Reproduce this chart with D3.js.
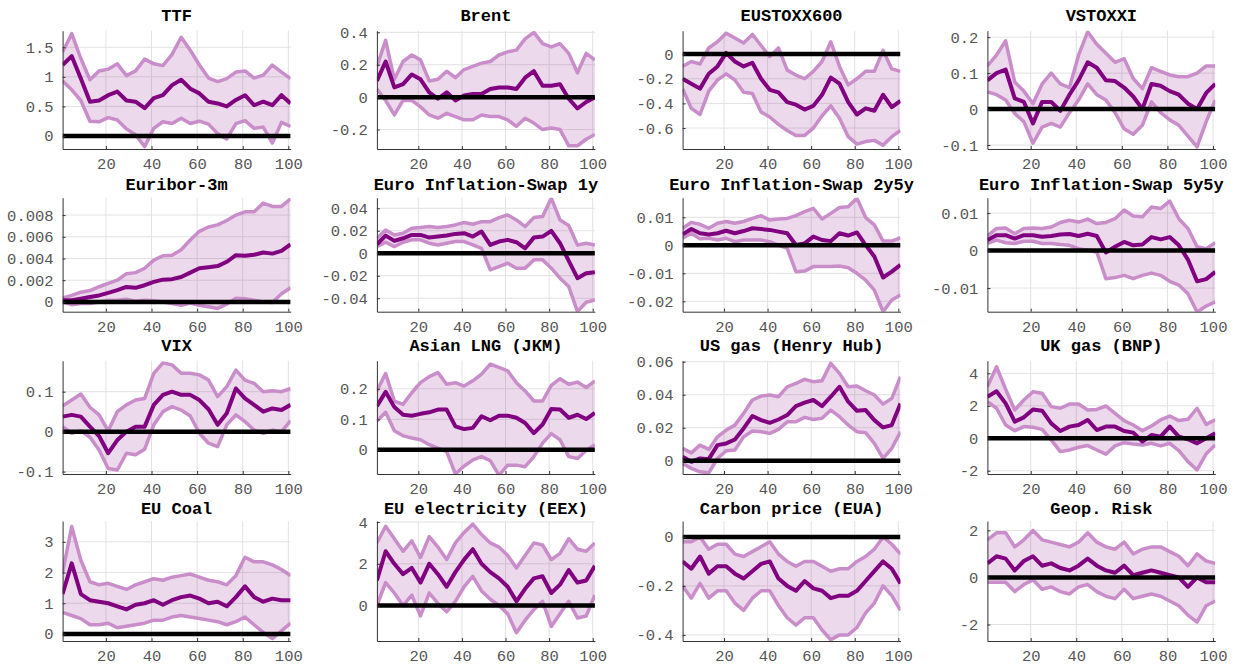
<!DOCTYPE html>
<html><head><meta charset="utf-8">
<script src="https://cdn.jsdelivr.net/npm/d3@7"></script>
<style>body{margin:0;background:#fff}svg{display:block}</style>
</head><body><svg id="c" width="1237" height="666"></svg>
<script>
const xs = [1,5,9,13,17,21,25,29,33,37,41,45,49,53,57,61,65,69,73,77,81,85,89,93,97,101];
const titles = ["TTF","Brent","EUSTOXX600","VSTOXXI","Euribor-3m","Euro Inflation-Swap 1y","Euro Inflation-Swap 2y5y","Euro Inflation-Swap 5y5y","VIX","Asian LNG (JKM)","US gas (Henry Hub)","UK gas (BNP)","EU Coal","EU electricity (EEX)","Carbon price (EUA)","Geop. Risk"];

const ttfMed=[1.2,1.35,0.97,0.58,0.6,0.69,0.75,0.6,0.58,0.47,0.64,0.69,0.86,0.95,0.8,0.72,0.58,0.55,0.5,0.61,0.69,0.52,0.58,0.52,0.69,0.55];
const ttfUp=[1.42,1.73,1.31,0.95,1.1,1.13,1.22,1.02,1.1,1.3,1.22,1.19,1.38,1.67,1.45,1.2,0.98,0.92,0.97,1.08,1.1,0.98,1.03,1.2,1.08,0.97];
const ttfLo=[0.93,0.78,0.6,0.25,0.24,0.31,0.27,0.12,0.02,-0.18,0.13,0.24,0.21,0.3,0.21,0.25,0.2,0.04,-0.05,0.21,0.26,0.13,0.15,-0.12,0.23,0.16];

const brentMed=[0.1,0.22,0.06,0.08,0.14,0.11,0.03,-0.01,0.03,-0.02,0.01,0.02,0.02,0.05,0.06,0.06,0.05,0.12,0.16,0.07,0.07,0.08,-0.01,-0.07,-0.03,0.0];
const brentUp=[0.19,0.35,0.11,0.22,0.26,0.23,0.1,0.11,0.16,0.12,0.17,0.19,0.21,0.22,0.26,0.28,0.29,0.36,0.4,0.33,0.31,0.33,0.27,0.15,0.27,0.23];
const brentLo=[0.05,-0.02,-0.11,-0.02,-0.02,-0.06,-0.11,-0.13,-0.1,-0.12,-0.14,-0.14,-0.11,-0.12,-0.12,-0.14,-0.18,-0.13,-0.16,-0.2,-0.19,-0.2,-0.3,-0.3,-0.26,-0.23];

const stoxxMed=[-0.2,-0.24,-0.28,-0.16,-0.1,0.01,-0.06,-0.1,-0.07,-0.2,-0.29,-0.31,-0.39,-0.41,-0.45,-0.42,-0.33,-0.19,-0.24,-0.39,-0.49,-0.44,-0.46,-0.33,-0.43,-0.38];
const stoxxUp=[-0.1,-0.06,-0.08,0.05,0.1,0.17,0.13,0.09,0.16,0.07,-0.02,0.05,-0.13,-0.17,-0.2,-0.14,-0.06,0.1,-0.1,-0.25,-0.2,-0.14,-0.14,0.03,-0.12,-0.14];
const stoxxLo=[-0.28,-0.44,-0.49,-0.3,-0.21,-0.16,-0.21,-0.31,-0.32,-0.47,-0.51,-0.57,-0.62,-0.66,-0.66,-0.6,-0.5,-0.42,-0.52,-0.67,-0.73,-0.71,-0.7,-0.74,-0.67,-0.62];

const vstoxxMed=[0.08,0.1,0.11,0.03,0.02,-0.04,0.02,0.02,-0.005,0.04,0.08,0.13,0.115,0.08,0.078,0.06,0.035,0.0,0.07,0.065,0.05,0.04,0.015,0.0,0.045,0.07];
const vstoxxUp=[0.12,0.15,0.19,0.075,0.05,0.015,0.07,0.1,0.07,0.06,0.15,0.215,0.18,0.155,0.13,0.14,0.085,0.057,0.115,0.105,0.095,0.09,0.09,0.1,0.12,0.12];
const vstoxxLo=[0.048,0.04,0.025,-0.012,-0.035,-0.095,-0.05,-0.04,-0.05,-0.01,0.025,0.07,0.04,0.025,-0.01,-0.055,-0.07,-0.045,0.02,-0.01,-0.03,-0.045,-0.075,-0.105,-0.035,0.025];

const euriborMed=[0.00015,0.00015,0.0003,0.00045,0.0006,0.00083,0.00108,0.00138,0.0013,0.00154,0.00185,0.00205,0.0021,0.0023,0.0027,0.0031,0.0032,0.0033,0.0037,0.0043,0.00425,0.00435,0.00455,0.00445,0.0047,0.0053];
const euriborUp=[0.00037,0.0006,0.0009,0.00105,0.0014,0.0017,0.002,0.0026,0.0027,0.0031,0.00385,0.00425,0.0043,0.0048,0.0057,0.0065,0.0069,0.0071,0.0075,0.008,0.0083,0.0083,0.0091,0.0088,0.0088,0.0095];
const euriborLo=[0,-0.00025,-0.00015,-0.00015,0,0.00015,0.00015,0.00025,0.00006,0.00015,0.0001,0,-0.00015,-0.0003,-0.0001,-0.0003,-0.00045,-0.0006,-0.0002,0.00035,0.0003,0.00015,0,-0.00006,0.00075,0.0013];

const infl1Med=[0.008,0.0157,0.011,0.0133,0.0163,0.0163,0.0139,0.0148,0.0157,0.0172,0.0178,0.0148,0.0193,0.0074,0.0104,0.0119,0.0098,0.0044,0.0139,0.0148,0.0199,0.0089,-0.0068,-0.0222,-0.0178,-0.0169];
const infl1Up=[0.0133,0.0207,0.0163,0.0178,0.0222,0.0228,0.0237,0.0228,0.0237,0.0252,0.0273,0.0258,0.0281,0.0281,0.0317,0.0341,0.0296,0.0237,0.0317,0.0326,0.0489,0.0296,0.0246,0.0074,0.0089,0.0074];
const infl1Lo=[0.0059,0.0098,0.0059,0.0098,0.0119,0.0119,0.0089,0.0074,0.0089,0.0104,0.0104,0.0074,0.0044,-0.0148,-0.0119,-0.0089,-0.0133,-0.0133,-0.0059,-0.0059,-0.0133,-0.0222,-0.0296,-0.0519,-0.0436,-0.0415];

const infl25Med=[0.0039,0.0058,0.0043,0.0039,0.0043,0.0052,0.0043,0.0051,0.0061,0.0058,0.0055,0.0049,0.0043,0.0001,0.0007,0.0031,0.0019,0.0015,0.0043,0.0035,0.0046,0.0001,-0.004,-0.0115,-0.0094,-0.007];
const infl25Up=[0.0061,0.0082,0.0075,0.0061,0.0079,0.0085,0.0079,0.0085,0.0096,0.0106,0.009,0.0094,0.0096,0.0106,0.012,0.0132,0.0094,0.0114,0.0135,0.0138,0.0168,0.0099,0.0073,0.0015,0.0015,0.0027];
const infl25Lo=[0.0025,0.0043,0.0023,0.0025,0.0019,0.0025,0.0013,0.0019,0.0019,0.0019,0.0013,0.0001,-0.0011,-0.0094,-0.0092,-0.0076,-0.0076,-0.0076,-0.0074,-0.008,-0.01,-0.0124,-0.016,-0.0237,-0.0195,-0.0177];

const infl55Med=[0.0028,0.0041,0.0041,0.0032,0.0041,0.0041,0.0037,0.0039,0.0043,0.0044,0.0039,0.0045,0.0039,-0.0005,0.001,0.0023,0.0014,0.0016,0.0036,0.003,0.0036,0.0014,-0.0024,-0.0082,-0.0076,-0.0057];
const infl55Up=[0.0039,0.0059,0.006,0.0045,0.0059,0.006,0.0059,0.0063,0.0075,0.0081,0.0076,0.0084,0.0072,0.0075,0.0085,0.0108,0.0092,0.009,0.0116,0.0112,0.0132,0.0085,0.0059,0.001,0.0005,0.0021];
const infl55Lo=[0.0019,0.0028,0.0021,0.0019,0.0025,0.0025,0.0019,0.0019,0.0016,0.0014,0.0005,0.0001,-0.0004,-0.0075,-0.0072,-0.0066,-0.0075,-0.0066,-0.006,-0.0066,-0.0082,-0.0092,-0.0115,-0.0164,-0.0148,-0.0137];

const vixMed=[0.0375,0.042,0.0375,0.0125,-0.011,-0.054,-0.021,0.0,0.0125,0.0125,0.067,0.092,0.1,0.092,0.092,0.079,0.056,0.017,0.046,0.108,0.083,0.067,0.05,0.058,0.054,0.067];
const vixUp=[0.064,0.079,0.094,0.061,0.042,0.002,0.05,0.067,0.079,0.083,0.146,0.172,0.167,0.146,0.146,0.142,0.129,0.0875,0.1125,0.154,0.129,0.121,0.1,0.1025,0.1,0.108];
const vixLo=[0.0125,-0.004,0.0025,-0.014,-0.046,-0.092,-0.096,-0.054,-0.058,-0.044,0.017,0.05,0.0625,0.054,0.039,-0.004,-0.029,-0.0375,0.017,0.042,0.025,0.004,-0.004,0.004,0.0,0.0275];

const lngMed=[0.143,0.19,0.14,0.115,0.112,0.118,0.123,0.132,0.132,0.077,0.068,0.072,0.11,0.097,0.112,0.112,0.105,0.088,0.055,0.083,0.134,0.132,0.105,0.115,0.101,0.121];
const lngUp=[0.193,0.25,0.16,0.149,0.187,0.22,0.24,0.253,0.215,0.22,0.209,0.226,0.248,0.281,0.27,0.259,0.22,0.193,0.16,0.16,0.211,0.233,0.215,0.222,0.204,0.226];
const lngLo=[0.094,0.123,0.063,0.046,0.039,0.033,0.017,0.006,-0.006,-0.079,-0.053,-0.033,-0.022,-0.035,-0.083,-0.05,-0.05,-0.055,-0.022,0.022,0.053,0.033,-0.022,-0.028,-0.002,0.017];

const usgasMed=[0.0024,-0.0006,0.0014,0.001,0.0095,0.0105,0.0129,0.0196,0.0271,0.0246,0.023,0.025,0.0277,0.0331,0.0352,0.0368,0.0331,0.0388,0.0448,0.0358,0.0303,0.0307,0.0246,0.0202,0.0216,0.0347];
const usgasUp=[0.0075,0.0048,0.0095,0.0069,0.0145,0.0186,0.0216,0.0287,0.0368,0.0392,0.0398,0.0388,0.0448,0.0469,0.0493,0.0479,0.0485,0.059,0.0529,0.0448,0.0453,0.0424,0.0398,0.0343,0.0378,0.0509];
const usgasLo=[-0.0016,-0.0046,-0.0067,-0.0073,0.0014,0.0061,0.0065,0.0145,0.018,0.0176,0.0166,0.019,0.0236,0.0236,0.0263,0.025,0.0257,0.0307,0.0267,0.0216,0.0176,0.017,0.0105,0.0014,0.0075,0.0176];

const ukgasMed=[2.56,2.9,2.15,1.03,1.29,1.78,1.7,0.92,0.45,0.72,0.82,1.13,0.51,0.72,0.72,0.45,0.35,-0.2,0.2,0.1,0.72,0.1,-0.06,-0.31,0.0,0.31];
const ukgasUp=[3.18,4.41,3.02,1.74,2.36,2.87,2.77,1.95,1.85,2.11,2.11,1.74,1.78,1.99,1.54,1.09,0.82,0.47,0.76,1.13,1.37,1.09,1.17,1.85,0.86,1.13];
const ukgasLo=[2.26,1.85,0.82,0.47,0.72,0.68,0.55,-0.1,-0.82,-0.72,-0.55,-0.45,-0.72,-0.98,-0.47,-0.27,-0.35,-0.41,-0.31,-0.47,-0.31,-0.76,-1.44,-1.95,-0.96,-0.41];

const coalMed=[1.3,2.3,1.3,1.1,1.05,1.0,0.9,0.8,0.95,1.0,1.1,0.95,1.1,1.2,1.25,1.15,1.0,1.05,0.9,1.2,1.55,1.2,1.05,1.15,1.1,1.1];
const coalUp=[2.0,3.5,2.4,1.7,1.6,1.65,1.55,1.45,1.6,1.7,1.8,1.75,1.85,1.9,1.95,1.85,1.75,1.7,1.6,1.9,2.5,2.35,2.35,2.25,2.1,1.9];
const coalLo=[0.7,0.6,0.5,0.3,0.3,0.35,0.2,0.25,0.3,0.35,0.45,0.45,0.55,0.6,0.55,0.5,0.45,0.4,0.3,0.4,0.55,0.3,0.05,-0.15,0.1,0.35];

const elecMed=[1.2,2.6,2.0,1.5,1.8,1.1,2.0,1.5,0.9,1.6,2.2,2.7,2.0,1.6,1.3,0.9,0.2,0.8,1.3,1.4,0.6,1.0,1.7,1.1,1.2,1.9];
const elecUp=[3.0,3.8,3.2,2.6,3.1,2.3,3.3,2.8,2.2,3.0,3.5,3.9,3.4,3.0,2.8,2.4,1.8,2.4,3.0,2.9,2.2,2.5,3.2,2.7,2.6,3.0];
const elecLo=[0.0,1.1,0.6,0.0,0.5,-0.5,0.6,0.1,-0.3,0.2,0.9,1.4,0.7,0.3,0.0,-0.4,-1.3,-0.7,-0.2,0.2,-1.0,-0.4,0.2,-0.6,-0.5,0.5];

const carbonMed=[-0.1,-0.13,-0.08,-0.15,-0.12,-0.12,-0.15,-0.17,-0.14,-0.11,-0.1,-0.17,-0.2,-0.22,-0.18,-0.21,-0.22,-0.25,-0.24,-0.24,-0.22,-0.18,-0.14,-0.1,-0.13,-0.19];
const carbonUp=[-0.02,-0.02,0.0,-0.05,-0.03,-0.03,-0.07,-0.08,-0.06,-0.04,-0.02,-0.07,-0.1,-0.12,-0.1,-0.1,-0.12,-0.14,-0.13,-0.13,-0.1,-0.08,-0.05,0.0,-0.03,-0.07];
const carbonLo=[-0.2,-0.25,-0.19,-0.25,-0.22,-0.22,-0.27,-0.3,-0.25,-0.22,-0.22,-0.28,-0.33,-0.36,-0.33,-0.33,-0.38,-0.42,-0.4,-0.4,-0.37,-0.31,-0.27,-0.2,-0.24,-0.3];

const geopMed=[0.6,0.9,0.8,0.3,0.7,0.9,0.5,0.6,0.4,0.3,0.5,0.8,0.5,0.3,0.2,0.5,0.1,0.2,0.3,0.2,0.1,0.0,-0.4,0.0,-0.2,-0.2];
const geopUp=[1.6,1.9,1.9,1.3,1.6,2.0,1.6,1.5,1.4,1.3,1.5,1.9,1.5,1.3,1.2,1.5,1.0,1.2,1.3,1.3,1.1,0.9,0.5,1.0,0.7,0.6];
const geopLo=[-0.2,-0.2,-0.2,-0.6,-0.3,-0.1,-0.5,-0.4,-0.6,-0.7,-0.4,-0.3,-0.6,-0.8,-0.9,-0.5,-0.9,-0.8,-0.7,-0.8,-1.0,-1.2,-1.6,-1.9,-1.2,-1.0];

const yDomains=[[-0.22,1.78],[-0.32,0.41],[-0.77,0.19],[-0.111,0.218],
  [-0.0009,0.0096],[-0.052,0.0494],[-0.0237,0.017],[-0.0163,0.0141],
  [-0.106,0.1775],[-0.079,0.292],[-0.008,0.0606],[-2.2,4.78],
  [-0.23,3.68],[-1.7,4.05],[-0.425,0.065],[-2.7,2.4]];
const yTicks=[[0,0.5,1,1.5],[-0.2,0,0.2,0.4],[-0.6,-0.4,-0.2,0],[-0.1,0,0.1,0.2],
  [0,0.002,0.004,0.006,0.008],[-0.04,-0.02,0,0.02,0.04],[-0.02,-0.01,0,0.01],[-0.01,0,0.01],
  [-0.1,0,0.1],[0,0.1,0.2],[0,0.02,0.04,0.06],[-2,0,2,4],
  [0,1,2,3],[0,2,4],[-0.4,-0.2,0],[-2,0,2]];
const xTicks=[20,40,60,80,100];

const meds=[ttfMed,brentMed,stoxxMed,vstoxxMed,euriborMed,infl1Med,infl25Med,infl55Med,vixMed,lngMed,usgasMed,ukgasMed,coalMed,elecMed,carbonMed,geopMed];
const ups=[ttfUp,brentUp,stoxxUp,vstoxxUp,euriborUp,infl1Up,infl25Up,infl55Up,vixUp,lngUp,usgasUp,ukgasUp,coalUp,elecUp,carbonUp,geopUp];
const los=[ttfLo,brentLo,stoxxLo,vstoxxLo,euriborLo,infl1Lo,infl25Lo,infl55Lo,vixLo,lngLo,usgasLo,ukgasLo,coalLo,elecLo,carbonLo,geopLo];

// layout
const colL=[62.6,376.9,682.6,987.4], colR=[290.6,594.9,900.5,1215.3];
const rowT=[30.7,197.7,360.7,521], rowB=[149,311.7,474,641], titleBase=[20.8,189.5,350.8,514];
const FONT='"Liberation Mono","DejaVu Sans Mono",monospace';

const svg=d3.select("#c");
titles.forEach((title,i)=>{
  const r=Math.floor(i/4), c=i%4;
  const L=colL[c],R=colR[c],T=rowT[r],B=rowB[r];
  const x=d3.scaleLinear().domain([1,101]).range([L,R]);
  const y=d3.scaleLinear().domain(yDomains[i]).range([B,T]);
  const g=svg.append("g");
  const cid="clip"+i;
  g.append("clipPath").attr("id",cid).append("rect").attr("x",L).attr("y",T).attr("width",R-L).attr("height",B-T);
  g.selectAll(".gx").data(xTicks).enter().append("line")
    .attr("x1",d=>x(d)).attr("x2",d=>x(d)).attr("y1",T).attr("y2",B)
    .attr("stroke","#e2e2e2").attr("stroke-width",1);
  g.selectAll(".gy").data(yTicks[i]).enter().append("line")
    .attr("x1",L).attr("x2",R).attr("y1",d=>y(d)).attr("y2",d=>y(d))
    .attr("stroke","#e2e2e2").attr("stroke-width",1);
  const data=xs.map((xv,k)=>({x:xv,m:meds[i][k],u:ups[i][k],l:los[i][k]}));
  const pg=g.append("g").attr("clip-path",`url(#${cid})`);
  pg.append("path").datum(data)
    .attr("d",d3.area().x(d=>x(d.x)).y0(d=>y(d.l)).y1(d=>y(d.u)))
    .attr("fill","#800080").attr("fill-opacity",0.15);
  ["u","l"].forEach(key=>{
    pg.append("path").datum(data)
      .attr("d",d3.line().x(d=>x(d.x)).y(d=>y(d[key])))
      .attr("fill","none").attr("stroke","#c98dc9").attr("stroke-width",3.5).attr("stroke-linejoin","round");
  });
  pg.append("path").datum(data)
    .attr("d",d3.line().x(d=>x(d.x)).y(d=>y(d.m)))
    .attr("fill","none").attr("stroke","#800080").attr("stroke-width",4).attr("stroke-linejoin","round");
  pg.append("line").attr("x1",L).attr("x2",R).attr("y1",y(0)).attr("y2",y(0))
    .attr("stroke","#000").attr("stroke-width",4.5);
  const yAxis=d3.axisLeft(y).tickValues(yTicks[i]).tickSizeInner(-3).tickSizeOuter(0).tickPadding(9).tickFormat(d=>String(d));
  const ya=g.append("g").attr("transform",`translate(${L},0)`).call(yAxis);
  const xAxis=d3.axisBottom(x).tickValues(xTicks).tickSizeInner(-3).tickSizeOuter(0).tickPadding(9).tickFormat(d=>String(d));
  const xa=g.append("g").attr("transform",`translate(0,${B})`).call(xAxis);
  [ya,xa].forEach(a=>{
    a.select(".domain").attr("stroke","#333").attr("stroke-width",1);
    a.selectAll(".tick line").attr("stroke","#333");
    a.selectAll(".tick text").attr("fill","#555").attr("font-family",FONT).attr("font-size","15.5px");
  });
  g.append("text").attr("x",(L+R)/2).attr("y",titleBase[r]).attr("text-anchor","middle")
    .attr("font-family",FONT).attr("font-weight","bold").attr("font-size","17px").attr("fill","#000").text(title);
});
</script></body></html>
